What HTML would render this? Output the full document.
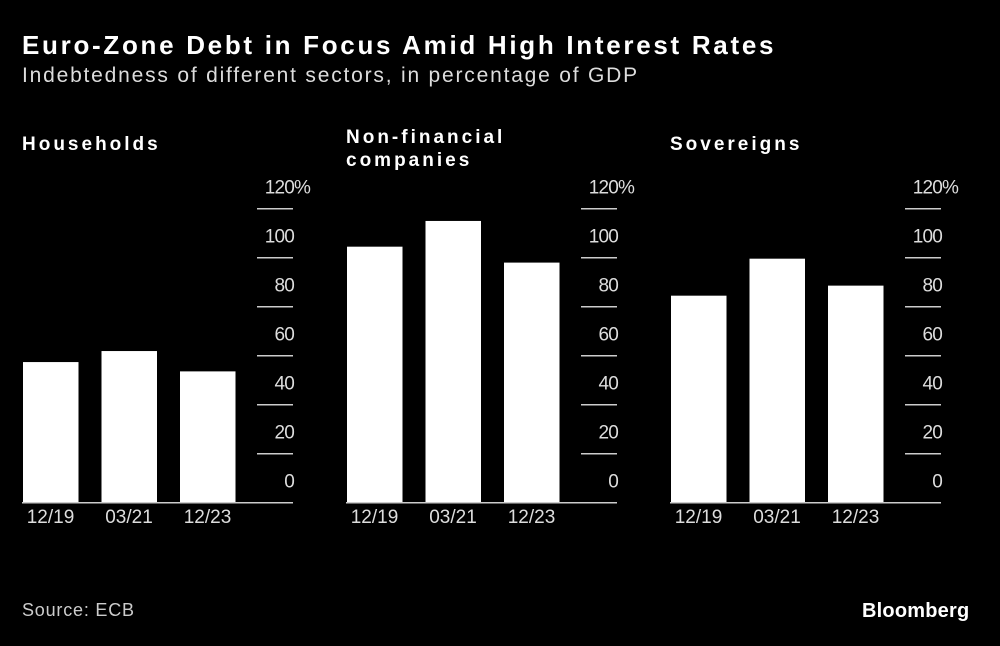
<!DOCTYPE html>
<html><head><meta charset="utf-8"><style>
body{margin:0;background:#000;width:1000px;height:646px;overflow:hidden;font-family:"Liberation Sans",sans-serif;color:#fff}
.t{position:absolute;white-space:nowrap}
</style></head><body>
<div class="t" style="left:22px;top:30px;font-size:26px;font-weight:bold;letter-spacing:2.7px">Euro-Zone Debt in Focus Amid High Interest Rates</div>
<div class="t" style="left:22px;top:64px;font-size:21px;color:#ddd;letter-spacing:1.8px">Indebtedness of different sectors, in percentage of GDP</div>
<div class="t" style="left:22px;top:600px;font-size:18px;color:#ccc;letter-spacing:0.8px">Source: ECB</div>
<div class="t" style="left:862px;top:600px;font-size:20px;font-weight:bold;letter-spacing:0.2px">Bloomberg</div>
<svg id="c" width="1000" height="646" style="position:absolute;left:0;top:0"></svg>
<script>
const panels=["Households","Non-financial|companies","Sovereigns"];
const categories=["12/19","03/21","12/23"];
const households=[57.4,61.9,53.6];
const nonFinancial=[104.5,115,98];
const sovereigns=[84.5,99.6,88.6];
const ticks=[0,20,40,60,80,100,120];
const series=[households,nonFinancial,sovereigns];
const svg=document.getElementById('c');const NS='http://www.w3.org/2000/svg';
function mk(t,a,txt){const e=document.createElementNS(NS,t);for(const k in a)e.setAttribute(k,a[k]);if(txt!=null)e.textContent=txt;svg.appendChild(e);return e;}
const base=502.7,per=2.45;function y(v){return base-v*per;}
const offs=[0,324,648];
series.forEach((vals,p)=>{
 const o=offs[p];
 const lines=panels[p].split('|');
 const ty=lines.length>1?143:150;
 lines.forEach((l,i)=>{const e=mk('text',{x:22+o,y:ty+i*23,'font-size':19,'font-weight':'bold',fill:'#fff','letter-spacing':3},l);
 
 });
 ticks.forEach(t=>{
  if(t>0){const l=mk('line',{x1:257+o,x2:293+o,y1:y(t),y2:y(t),stroke:'#ccc','stroke-width':1.5});
  
  }
  const e=mk('text',{x:294+o,y:y(t)-15,'font-size':19,fill:'#ddd','text-anchor':'end','letter-spacing':-0.8},String(t));
  
  
  if(t==120){const pc=mk('text',{x:294+o,y:y(t)-15,'font-size':19,fill:'#ddd','letter-spacing':-0.8},'%');
  
  }
 });
 vals.forEach((v,i)=>{
  const x=23+o+i*78.5;
  const r=mk('rect',{x:x,y:y(v),width:55.5,height:base-y(v),fill:'#fff'});
  
  
  const e=mk('text',{x:x+27.5,y:523,'font-size':19,fill:'#ddd','text-anchor':'middle'},categories[i]);
  
  
 });
 const b=mk('line',{x1:22+o,x2:293+o,y1:base,y2:base,stroke:'#ccc','stroke-width':1.5});
 
 
});
</script>
</body></html>
